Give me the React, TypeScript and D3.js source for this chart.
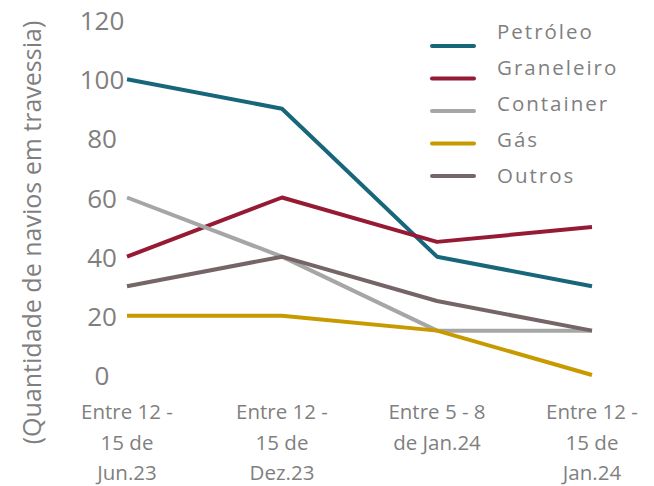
import React from 'react';
import * as d3 from 'd3';

const categories = [
  ['Entre 12 -', '15 de', 'Jun.23'],
  ['Entre 12 -', '15 de', 'Dez.23'],
  ['Entre 5 - 8', 'de Jan.24'],
  ['Entre 12 -', '15 de', 'Jan.24'],
];
const seriesNames = ['Petróleo', 'Graneleiro', 'Container', 'Gás', 'Outros'];
const seriesColors = ['#17667a', '#961a33', '#a6a6a6', '#c79a00', '#766567'];
const petroleo = [100, 90, 40, 30];
const graneleiro = [40, 60, 45, 50];
const container = [60, 40, 15, 15];
const gas = [20, 20, 15, 0];
const outros = [30, 40, 25, 15];
const yTicks = [0, 20, 40, 60, 80, 100, 120];

const seriesValues = [petroleo, graneleiro, container, gas, outros];

const width = 654;
const height = 486;
const margin = { top: 20, right: 62, bottom: 111, left: 127 };
const font = '"Open Sans", Lato, sans-serif';
const textColor = '#7f7f7f';

const App: React.FC = () => {
  // scales for the plotting area
  const x = d3.scalePoint<number>()
    .domain(d3.range(categories.length))
    .range([margin.left, width - margin.right]);
  const y = d3.scaleLinear()
    .domain([0, 120])
    .range([height - margin.bottom, margin.top]);

  const line = d3.line<number>()
    .x((_, i) => x(i) as number)
    .y((d) => y(d));

  // legend rows: text and swatch have slightly different spacing in the original
  const legendText = d3.scaleLinear().domain([0, 4]).range([31, 175]);
  const legendLine = d3.scaleLinear().domain([0, 4]).range([46, 176]);

  return (
    <svg width={width} height={height} style={{ position: 'absolute', left: 0, top: 0 }}>
      <rect width={width} height={height} fill="#fff" />
      <text
        transform={`translate(31,${(margin.top + 445) / 2}) rotate(-90)`}
        textAnchor="middle"
        dominantBaseline="central"
        fontFamily={font}
        fontSize={25}
        fill={textColor}
      >
        (Quantidade de navios em travessia)
      </text>
      {yTicks.map((t) => (
        <text
          key={t}
          x={102}
          y={y(t)}
          textAnchor="middle"
          dominantBaseline="central"
          fontFamily={font}
          fontSize={26}
          fill={textColor}
        >
          {t}
        </text>
      ))}
      {categories.map((lines, i) => (
        <text
          key={i}
          x={x(i)}
          textAnchor="middle"
          fontFamily={font}
          fontSize={20.5}
          fill={textColor}
        >
          {lines.map((l, j) => (
            <tspan key={j} x={x(i)} y={419 + j * 30.5}>{l}</tspan>
          ))}
        </text>
      ))}
      {seriesValues.map((vals, k) => (
        <path
          key={seriesNames[k]}
          d={line(vals) ?? ''}
          fill="none"
          stroke={seriesColors[k]}
          strokeWidth={4}
          strokeLinejoin="round"
        />
      ))}
      {seriesNames.map((name, k) => (
        <g key={name}>
          <line
            x1={432}
            x2={474}
            y1={legendLine(k)}
            y2={legendLine(k)}
            stroke={seriesColors[k]}
            strokeWidth={4}
            strokeLinecap="round"
          />
          <text
            x={497}
            y={legendText(k)}
            dominantBaseline="central"
            fontFamily={font}
            fontSize={20.5}
            letterSpacing={2}
            fill={textColor}
          >
            {name}
          </text>
        </g>
      ))}
    </svg>
  );
};

export default App;
